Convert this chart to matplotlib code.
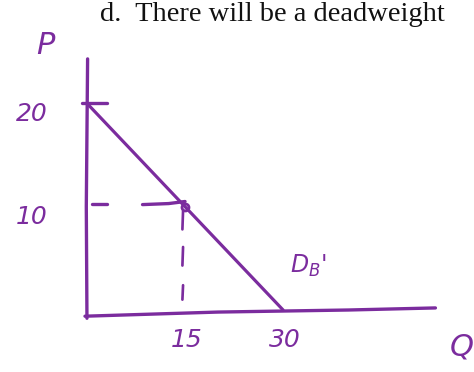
import matplotlib
matplotlib.use("Agg")
import matplotlib.pyplot as plt

# Demand curve D_B': linear from (0, 20) to (30, 0)
demand_q = [0, 30]
demand_p = [20, 0]
point_q, point_p = 15, 10
x_ticks = [15, 30]
x_tick_labels = ["15", "30"]
y_ticks = [10, 20]
y_tick_labels = ["10", "20"]

ink = "#7B2C9E"
lw = 2.4

fig = plt.figure(figsize=(4.74, 3.72), dpi=100)
ax = fig.add_axes([0, 0, 1, 1])
ax.set_xlim(-13.3, 59.2)
ax.set_ylim(-6.0, 30.0)
ax.axis("off")

sketch = dict(solid_capstyle="round")

# Axes drawn by hand
ax.plot([0.1, -0.1, 0.0], [24.3, 10, -0.8], color=ink, lw=lw, **sketch)
ax.plot([-0.3, 20, 40, 53.3], [-0.6, -0.2, 0.0, 0.2], color=ink, lw=lw, **sketch)

# Demand line
ax.plot(demand_q, demand_p, color=ink, lw=lw * 0.95, **sketch)
ax.plot(point_q, point_p, "o", ms=5, mfc="none", mec=ink, mew=2)

# Tick marks on the price axis
ax.plot([-0.8, 3.0], [20, 20], color=ink, lw=lw, **sketch)
ax.plot([0.8, 3.0], [10.3, 10.3], color=ink, lw=lw, **sketch)
ax.plot([8.5, 12.5, 15], [10.2, 10.3, 10.5], color=ink, lw=lw, **sketch)

# Dashed drop line from the point to the quantity axis
for y0, y1 in [(9.6, 7.8), (6.1, 4.3), (2.4, 1.0)]:
    ax.plot([14.7, 14.6], [y0, y1], color=ink, lw=lw * 0.8, **sketch)

# Hand-written labels
hand = dict(color=ink, family="DejaVu Sans", style="italic")
ax.text(-6.3, 25.6, "P", fontsize=22, ha="center", va="center", **hand)
for p, lab in zip(y_ticks, y_tick_labels):
    ax.text(-8.5, p - 1.0, lab, fontsize=18, ha="center", va="center", **hand)
for q, lab in zip(x_ticks, x_tick_labels):
    ax.text(q + 0.3, -2.9, lab, fontsize=18, ha="center", va="center", **hand)
ax.text(33.8, 4.3, "D$_B$'", fontsize=17, ha="center", va="center", **hand)
ax.text(57.3, -3.6, "Q", fontsize=22, ha="center", va="center", **hand)

# Printed question text at the top
fig.text(100 / 474, 1 - 21 / 372, "d.  There will be a deadweight", fontsize=20.5,
         family="Liberation Serif", color="#111111", ha="left", va="baseline")

fig.savefig("out.png", dpi=100)
